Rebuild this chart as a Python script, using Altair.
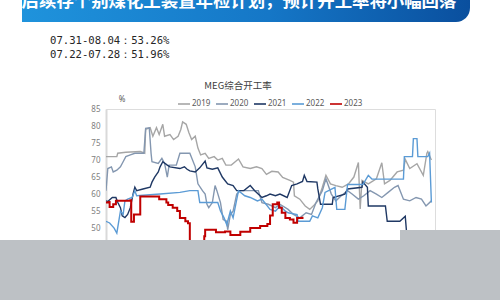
import altair as alt
import pandas as pd

years = ["2019", "2020", "2021", "2022", "2023"]
colors = ["#a6a6a6", "#8497b0", "#1f3864", "#5b9bd5", "#c00000"]

banner_text = "后续存个别煤化工装置年检计划，预计开工率将小幅回落"
note_lines = ["07.31-08.04：53.26%", "07.22-07.28：51.96%"]
chart_title = "MEG综合开工率"
y_ticks = [50, 55, 60, 65, 70, 75, 80, 85]

day_2019 = [0, 12, 13, 22, 38, 43, 44, 49, 52, 56, 59, 63, 65, 71, 75, 80, 83, 85, 89, 92, 95, 99, 102, 105, 110,
            114, 120, 124, 129, 133, 139, 147, 152, 160, 167, 173, 178, 184, 191, 196, 204, 208, 209, 215, 221, 226,
            231, 235, 240, 244, 249, 255, 262, 269, 275, 280, 282, 284, 291, 300, 306, 309, 315, 323, 330, 332, 337,
            345, 352, 356, 357, 361]
rate_2019 = [71, 71, 72, 72.3, 72.5, 72, 79, 79.5, 77, 79.5, 77.5, 80.5, 77, 77.5, 76, 77, 79, 81.2, 80.5, 78, 76,
             77, 73.5, 71.5, 72, 70.5, 71, 70, 70.5, 68.5, 68.5, 70.3, 68, 67.5, 68, 67.5, 65.8, 66.7, 66.5, 64.9, 64,
             63.5, 59.5, 58.5, 56.5, 55.5, 56.8, 58, 62, 65.5, 63, 62.5, 62, 63, 65, 69.3, 55.6, 64, 63, 64.5, 69.2,
             63, 64, 66.5, 67, 70.2, 67.5, 68.9, 65.5, 72, 72.5, 70]

day_2020 = [0, 2, 6, 8, 12, 16, 19, 22, 27, 32, 42, 44, 48, 50, 51, 58, 62, 65, 68, 70, 78, 82, 93, 99, 102, 107,
            110, 112, 114, 118, 121, 123, 127, 130, 134, 135, 138, 141, 145, 149, 169, 173, 180, 188, 193, 202, 208,
            215, 222, 228, 233, 240, 244, 250, 255, 261, 268, 273, 280, 286, 293, 300, 306, 313, 320, 324, 330, 337,
            344, 350, 355, 361]
rate_2020 = [61, 67.5, 68, 66.5, 67, 68, 69.5, 71, 71.5, 72, 72, 79.3, 79.5, 72, 69.5, 69, 70.5, 69, 65, 68.5, 68.5,
             72, 72, 68, 63, 61, 60, 57, 56, 57.5, 62.5, 61, 57.5, 52.5, 52, 49.5, 54, 55, 60, 61, 61, 57.5, 57, 56,
             57, 55.5, 54, 53, 54.5, 54, 57.5, 61, 64.5, 60, 58, 59.5, 61, 60, 58.5, 59.5, 61, 60, 59, 60.5, 62, 62.5,
             58.5, 58, 59, 58.5, 56.5, 58]

day_2021 = [0, 2, 7, 11, 13, 16, 18, 21, 24, 27, 30, 32, 34, 41, 49, 51, 54, 58, 60, 63, 68, 71, 82, 87, 90, 93, 99,
            104, 110, 112, 118, 124, 129, 132, 135, 141, 145, 153, 160, 165, 173, 178, 182, 188, 193, 201, 206, 212,
            218, 220, 223, 234, 235, 238, 251, 252, 265, 268, 284, 285, 290, 291, 310, 312, 326, 332, 334, 362]
rate_2021 = [58, 57.8, 59, 59, 57.6, 56, 53.6, 53.1, 54, 56, 60, 62, 61, 61.5, 62, 63.5, 65, 66.5, 68, 69.5, 68.5,
             68, 67.5, 68, 67.3, 66.8, 66.5, 67.7, 69.7, 67.7, 67.3, 67.7, 65, 64, 63, 62.5, 61, 61, 62.5, 61, 59,
             59.5, 60, 59.5, 60, 59, 62.5, 63, 63.7, 65.5, 63.7, 63.5, 61.5, 57, 57, 59, 60, 61.5, 62, 63.5, 62,
             56.5, 56.5, 52, 52, 53.5, 47, 46]

day_2022 = [0, 4, 9, 12, 16, 19, 21, 24, 29, 32, 34, 60, 82, 93, 102, 104, 124, 127, 131, 134, 138, 141, 147, 154,
            160, 168, 173, 182, 188, 193, 199, 202, 212, 213, 226, 229, 235, 240, 243, 254, 256, 265, 268, 285, 291,
            295, 330, 331, 340, 341, 345, 346, 357, 359, 361]
rate_2022 = [52, 51.5, 50, 48.5, 55, 54, 58, 58.5, 59, 61, 59.5, 60, 60.5, 61, 61, 57.5, 57.5, 55, 53, 51, 55, 53,
             61, 59.5, 59, 58, 58.5, 55.5, 55, 56.5, 55, 54.5, 54, 52, 52, 53.6, 53, 56, 60.5, 62, 55.5, 55.5, 62.8,
             62.8, 65.5, 64.4, 64.4, 71, 71, 76.3, 76.3, 71, 71, 72, 57.5]

day_2023 = [0, 3, 4, 8, 11, 27, 28, 31, 37, 38, 58, 59, 65, 67, 69, 74, 79, 82, 88, 91, 93, 108, 109, 110, 121, 122,
            132, 138, 149, 160, 171, 179, 182, 185, 190, 192, 195, 199, 204, 208, 212, 218]
rate_2023 = [57.5, 57.7, 56.2, 57, 58, 58.2, 51.9, 54, 54, 59.3, 59.3, 58.5, 58.5, 57.5, 56.8, 56, 55, 53, 52, 51.4,
             44, 44, 47.6, 49.5, 49.5, 48.8, 49, 48, 48.9, 50, 50.6, 51.2, 53.7, 57, 57.5, 56, 54.5, 53, 52.5, 51.6,
             53, 53.3]

series = [("2019", day_2019, rate_2019), ("2020", day_2020, rate_2020), ("2021", day_2021, rate_2021),
          ("2022", day_2022, rate_2022), ("2023", day_2023, rate_2023)]
rows = []
for yr, ds, rs in series:
    for i, (d, r) in enumerate(zip(ds, rs)):
        rows.append({"year": yr, "day": d, "rate": r, "idx": i})
df = pd.DataFrame(rows)

x_enc = alt.X("day:Q", scale=alt.Scale(domain=[0, 365], nice=False, zero=False), axis=None)
y_enc = alt.Y("rate:Q", scale=alt.Scale(domain=[46.5, 85], nice=False, zero=False),
              axis=alt.Axis(values=y_ticks, title=None, ticks=False, grid=False, labelFontSize=8,
                            labelColor="#808080", labelFont="Noto Sans", labelPadding=6,
                            domainColor="#d9d9d9", domainWidth=2))
c_enc = alt.Color("year:N", scale=alt.Scale(domain=years, range=colors),
                  legend=alt.Legend(orient="none", legendX=71, legendY=-12, direction="horizontal",
                                    title=None, symbolType="stroke", symbolSize=144, symbolStrokeWidth=1.6,
                                    labelFontSize=8, labelColor="#595959", labelFont="Noto Sans",
                                    labelOffset=1, columnPadding=1, padding=0))

lines = alt.Chart(df[df.year != "2023"]).mark_line(strokeWidth=1.4, clip=True).encode(
    x=x_enc, y=y_enc, color=c_enc, order="idx:Q")
red = alt.Chart(df[df.year == "2023"]).mark_line(strokeWidth=2, clip=True, interpolate="step-after").encode(
    x=x_enc, y=y_enc, color=c_enc, order="idx:Q")

one = pd.DataFrame({"k": [0]})
grad = alt.LinearGradient(gradient="linear", x1=0, x2=1, y1=0, y2=0,
                          stops=[alt.GradientStop(color="#1f93dc", offset=0),
                                 alt.GradientStop(color="#1577c7", offset=0.55),
                                 alt.GradientStop(color="#0a4f9e", offset=1)])
banner = alt.Chart(one).mark_rect(color=grad, cornerRadiusBottomRight=14).encode(
    x=alt.value(-84), x2=alt.value(364), y=alt.value(-115), y2=alt.value(-87))
banner_t = alt.Chart(one).mark_text(text=banner_text, font="Noto Sans CJK SC", fontSize=17.4, fontWeight="bold",
                                    color="white", align="center", baseline="middle").encode(
    x=alt.value(133), y=alt.value(-107))
note1 = alt.Chart(one).mark_text(text=note_lines[0], font="DejaVu Sans Mono", fontSize=10.6, color="#262626",
                                 align="left", baseline="middle").encode(x=alt.value(-56), y=alt.value(-68))
note2 = alt.Chart(one).mark_text(text=note_lines[1], font="DejaVu Sans Mono", fontSize=10.6, color="#262626",
                                 align="left", baseline="middle").encode(x=alt.value(-56), y=alt.value(-54))
title_t = alt.Chart(one).mark_text(text=chart_title, font="Noto Sans CJK SC", fontSize=9.5, color="#404040",
                                   align="center", baseline="middle").encode(x=alt.value(132), y=alt.value(-23))
pct = alt.Chart(one).mark_text(text="%", font="Noto Sans", fontSize=8, color="#595959",
                               align="center", baseline="middle").encode(x=alt.value(16), y=alt.value(-9))
gray1 = alt.Chart(one).mark_rect(color="#bdc1c5").encode(
    x=alt.value(-106), x2=alt.value(394), y=alt.value(131), y2=alt.value(191))
gray2 = alt.Chart(one).mark_rect(color="#bdc1c5").encode(
    x=alt.value(294), x2=alt.value(394), y=alt.value(121), y2=alt.value(191))

chart = alt.layer(lines, red, banner, banner_t, note1, note2, title_t, pct, gray1, gray2).properties(
    width=329, height=131, autosize=alt.AutoSizeParams(type="none"),
    padding={"left": 106, "top": 109, "right": 65, "bottom": 60}
).configure_view(stroke=None).configure(background="white")

chart.save("out.html", embed_options={"renderer": "svg", "actions": False})
